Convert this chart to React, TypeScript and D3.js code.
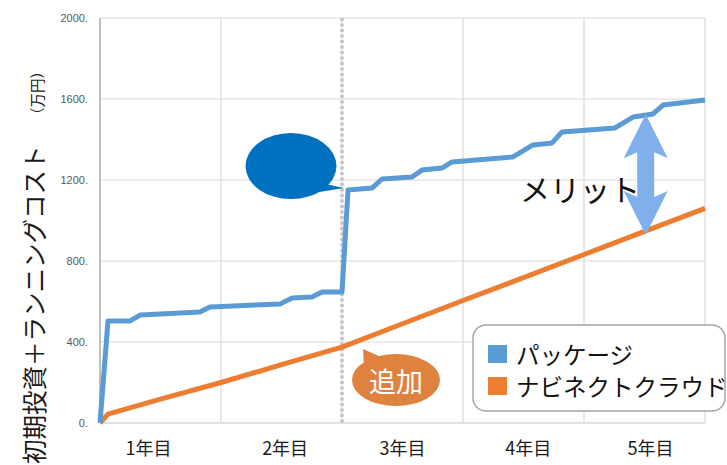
import React from 'react';
import * as d3 from 'd3';

// x is in years since start (0..5), values in 万円
const blueYears = [0, 0.066, 0.248, 0.331, 0.826, 0.909, 1.488, 1.587, 1.752, 1.835, 2.0, 2.05, 2.248, 2.331, 2.579, 2.661, 2.826, 2.909, 3.413, 3.579, 3.736, 3.818, 4.256, 4.405, 4.57, 4.653, 5.0];
const blueValues = [0, 504, 504, 533, 548, 573, 588, 617, 622, 647, 647, 1151, 1160, 1205, 1215, 1249, 1259, 1289, 1314, 1373, 1383, 1437, 1457, 1511, 1526, 1570, 1595];

const orangeYears = [0, 0.066, 0.5, 1.0, 1.5, 2.0, 2.5, 3.0, 3.5, 4.0, 4.5, 5.0];
const orangeValues = [0, 44, 118, 200, 288, 375, 490, 605, 718, 832, 946, 1060];

const yTicks = [0, 400, 800, 1200, 1600, 2000];
const xGrid = [1, 2, 3, 4, 5];
const xLabels = ['1年目', '2年目', '3年目', '4年目', '5年目'];
const xLabelPos = [0.4, 1.53, 2.5, 3.54, 4.55];

const seriesNames = ['パッケージ', 'ナビネクトクラウド'];
const seriesColors = ['#5b9bd5', '#ed7d31'];

// annotation anchors (data coords)
const meritYear = 4.51;
const meritTop = 1525;
const meritBottom = 928;
const splitYear = 2.0;

const W = 727;
const H = 465;
const JP = '"Noto Sans CJK JP", "Noto Sans", sans-serif';

export default function App() {
  const x = d3.scaleLinear().domain([0, 5]).range([100, 705]);
  const y = d3.scaleLinear().domain([0, 2000]).range([423, 18]);

  const line = d3
    .line<[number, number]>()
    .x((d) => x(d[0]))
    .y((d) => y(d[1]));

  const blueData = blueYears.map((t, i) => [t, blueValues[i]] as [number, number]);
  const orangeData = orangeYears.map((t, i) => [t, orangeValues[i]] as [number, number]);

  // double headed arrow
  const ax = x(meritYear);
  const aTop = y(meritTop);
  const aBot = y(meritBottom);
  const hw = 22;
  const sw = 8.5;
  const hh = 44;
  const arrowPath = [
    [ax, aTop],
    [ax + hw, aTop + hh],
    [ax + sw, aTop + hh - 6],
    [ax + sw, aBot - hh + 6],
    [ax + hw, aBot - hh],
    [ax, aBot],
    [ax - hw, aBot - hh],
    [ax - sw, aBot - hh + 6],
    [ax - sw, aTop + hh - 6],
    [ax - hw, aTop + hh],
  ]
    .map((p, i) => `${i ? 'L' : 'M'}${p[0]},${p[1]}`)
    .join('') + 'Z';

  // blue bubble: tail tip touches the jump at year 2
  const bTipX = x(splitYear) + 2;
  const bTipY = y(1160);
  const bcx = bTipX - 53;
  const bcy = bTipY - 22;

  // orange bubble below orange line at year 2
  const oTipX = x(splitYear) + 21;
  const oTipY = y(375) + 2;
  const ocx = oTipX + 33;
  const ocy = oTipY + 31;

  return (
    <svg
      width={W}
      height={H}
      style={{ position: 'fixed', left: 0, top: 0, background: '#fff' }}
    >
      {/* horizontal grid */}
      {yTicks.slice(1).map((v) => (
        <line key={v} x1={100} x2={705} y1={y(v)} y2={y(v)} stroke="#d9d9d9" strokeWidth={1.2} />
      ))}
      {/* vertical grid */}
      {xGrid.map((v) => (
        <line key={v} x1={x(v)} x2={x(v)} y1={y(2000)} y2={y(0)} stroke="#d9d9d9" strokeWidth={1.2} />
      ))}
      <line x1={100} x2={705} y1={y(0)} y2={y(0)} stroke="#d9d9d9" strokeWidth={1.5} />
      <line x1={100} x2={100} y1={y(2000)} y2={y(0)} stroke="#bfbfbf" strokeWidth={2} />

      {/* split line */}
      <line
        x1={x(splitYear)}
        x2={x(splitYear)}
        y1={y(2000)}
        y2={y(0)}
        stroke="#c4c4c4"
        strokeWidth={3.5}
        strokeDasharray="3 2.5"
      />

      {/* y tick labels */}
      {yTicks.map((v) => (
        <text
          key={v}
          x={88}
          y={y(v)}
          textAnchor="end"
          dominantBaseline="central"
          fontSize={11}
          fill="#595959"
          fontFamily="Liberation Sans, Arial, sans-serif"
        >
          {`${v}.`}
        </text>
      ))}

      {/* x labels */}
      {xLabels.map((l, i) => (
        <text
          key={l}
          x={x(xLabelPos[i])}
          y={447}
          textAnchor="middle"
          dominantBaseline="central"
          fontSize={18}
          fill="#1a1a1a"
          fontFamily={JP}
        >
          {l}
        </text>
      ))}

      {/* y title */}
      <text
        transform="translate(33,464) rotate(-90)"
        fontSize={24.5}
        dominantBaseline="central"
        fill="#1a1a1a"
        fontFamily={JP}
      >
        初期投資＋ランニングコスト
      </text>
      <text
        transform="translate(36,64) rotate(-90)"
        fontSize={14.5}
        textAnchor="end"
        dominantBaseline="central"
        fill="#1a1a1a"
        fontFamily={JP}
      >
        （万円）
      </text>

      {/* series */}
      <path d={line(orangeData) || ''} fill="none" stroke={seriesColors[1]} strokeWidth={5} strokeLinejoin="round" />
      <path d={line(blueData) || ''} fill="none" stroke={seriesColors[0]} strokeWidth={5} strokeLinejoin="round" />

      {/* blue bubble */}
      <path
        d={`M${bcx + 34},${bcy + 18} L${bTipX},${bTipY} L${bcx + 22},${bcy + 27} Z`}
        fill="#0070c0"
      />
      <ellipse cx={bcx} cy={bcy} rx={45.5} ry={33} fill="#0070c0" />

      {/* orange bubble */}
      <path
        d={`M${oTipX},${oTipY} L${ocx - 17},${ocy - 24} L${ocx - 32},${ocy - 12} Z`}
        fill="#e0823f"
      />
      <ellipse cx={ocx} cy={ocy} rx={44} ry={26} fill="#e0823f" />
      <text
        x={ocx}
        y={ocy}
        textAnchor="middle"
        dominantBaseline="central"
        fontSize={27}
        fill="#fff"
        fontFamily={JP}
      >
        追加
      </text>

      {/* merit arrow */}
      <path d={arrowPath} fill="#7fb0ec" />
      <text
        x={520}
        y={188}
        dominantBaseline="central"
        fontSize={30}
        fill="#111"
        fontFamily={JP}
      >
        メリット
      </text>

      {/* legend */}
      <rect x={473} y={325} width={252} height={86} rx={13} fill="#fff" stroke="#a6a6a6" strokeWidth={1.5} />
      {seriesNames.map((n, i) => (
        <g key={n}>
          <rect x={488} y={345 + i * 32} width={19} height={18} fill={seriesColors[i]} />
          <text
            x={516}
            y={354 + i * 32}
            dominantBaseline="central"
            fontSize={23.5}
            fill="#111"
            fontFamily={JP}
          >
            {n}
          </text>
        </g>
      ))}
    </svg>
  );
}
